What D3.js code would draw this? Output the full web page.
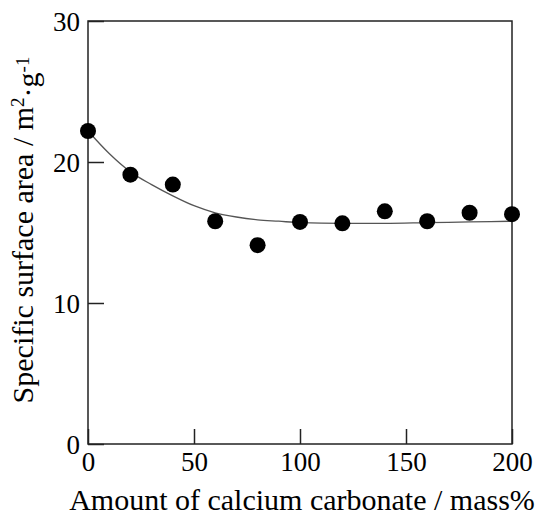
<!DOCTYPE html>
<html>
<head>
<meta charset="utf-8">
<script src="https://cdn.jsdelivr.net/npm/d3@7"></script>
<style>
  body { margin: 0; background: #fff; }
  text { font-family: "Liberation Serif", "Times New Roman", serif; fill: #000; }
</style>
</head>
<body>
<div id="viz"></div>
<script>
const margin = {top: 21, right: 28, bottom: 71, left: 88};
const width = 540;
const height = 515;

// Measured points
const amounts = [0, 20, 40, 60, 80, 100, 120, 140, 160, 180, 200];
const surfaceArea = [22.2, 19.1, 18.4, 15.8, 14.1, 15.75, 15.65, 16.5, 15.8, 16.4, 16.3];

// Fitted trend line
const fitAmounts = [0, 10, 20, 30, 40, 50, 60, 70, 80, 90, 100, 120, 140, 160, 180, 200];
const fitArea = [22.2, 20.6, 19.3, 18.4, 17.6, 16.9, 16.4, 16.1, 15.9, 15.8, 15.7, 15.65, 15.65, 15.7, 15.75, 15.8];

const xTicks = [0, 50, 100, 150, 200];
const yTicks = [0, 10, 20, 30];

const x = d3.scaleLinear()
  .domain([0, 200])
  .range([margin.left, width - margin.right]);
const y = d3.scaleLinear()
  .domain([0, 30])
  .range([height - margin.bottom, margin.top]);

const svg = d3.select('#viz')
  .append('svg')
    .attr('width', width)
    .attr('height', height)
    .attr('viewBox', `0 0 ${width} ${height}`);

// Frame
svg.append('rect')
  .attr('x', x(0))
  .attr('y', y(30))
  .attr('width', x(200) - x(0))
  .attr('height', y(0) - y(30))
  .attr('fill', 'none')
  .attr('stroke', '#222')
  .attr('stroke-width', 1.5);

// Axes with inward ticks
const xAxis = svg.append('g')
  .attr('transform', `translate(0, ${y(0)})`)
  .call(d3.axisBottom(x).tickValues(xTicks).tickSizeInner(-15).tickSizeOuter(0).tickPadding(8));
const yAxis = svg.append('g')
  .attr('transform', `translate(${x(0)}, 0)`)
  .call(d3.axisLeft(y).tickValues(yTicks).tickSizeInner(-16).tickSizeOuter(0).tickPadding(8));

[xAxis, yAxis].forEach(ax => {
  ax.select('.domain').remove();
  ax.selectAll('line').attr('stroke', '#222').attr('stroke-width', 1.5);
  ax.selectAll('text')
    .style('font-family', '"Liberation Serif", serif')
    .style('font-size', '27px')
    .attr('fill', '#000');
});
yAxis.selectAll('text').attr('dy', '0.36em');

// Trend line
const line = d3.line()
  .x((d, i) => x(fitAmounts[i]))
  .y(d => y(d))
  .curve(d3.curveMonotoneX);

svg.append('path')
  .attr('d', line(fitArea))
  .attr('fill', 'none')
  .attr('stroke', '#555')
  .attr('stroke-width', 1.3);

// Points
svg.append('g')
  .selectAll('circle')
  .data(surfaceArea)
  .join('circle')
    .attr('cx', (d, i) => x(amounts[i]))
    .attr('cy', d => y(d))
    .attr('r', 8)
    .attr('fill', '#000');

// Axis titles
svg.append('text')
  .attr('x', 302)
  .attr('y', 510)
  .attr('text-anchor', 'middle')
  .style('font-size', '30px')
  .text('Amount of calcium carbonate / mass%');

const yTitle = svg.append('text')
  .attr('transform', `translate(33, 230) rotate(-90)`)
  .attr('text-anchor', 'middle')
  .style('font-size', '30px');
yTitle.append('tspan').text('Specific surface area / m');
yTitle.append('tspan').attr('dy', '-0.45em').style('font-size', '19px').text('2');
yTitle.append('tspan').attr('dy', '0.45em').text('·g');
yTitle.append('tspan').attr('dy', '-0.45em').style('font-size', '19px').text('-1');
</script>
</body>
</html>
